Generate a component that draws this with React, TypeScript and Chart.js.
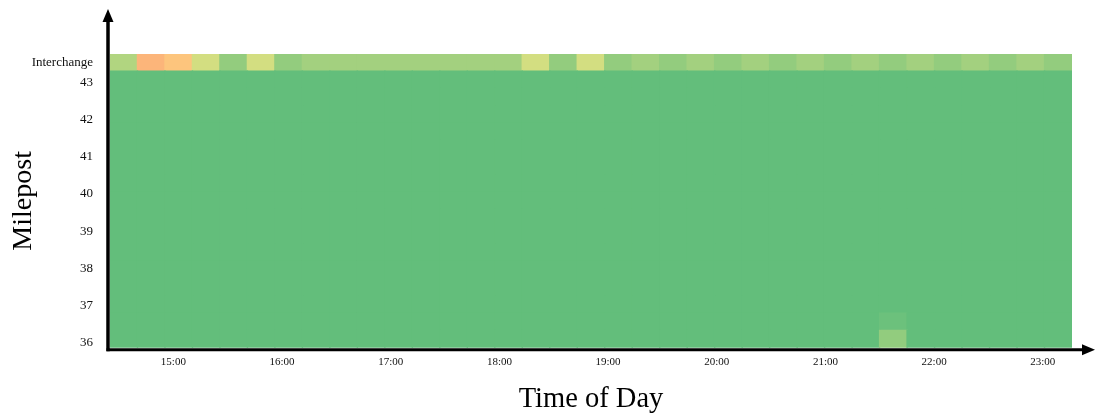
import { useEffect, useRef } from "react";
import { Chart, registerables } from "chart.js";

Chart.register(...registerables);

// ---- Axis ticks ----
const HOUR_TICKS = [15, 16, 17, 18, 19, 20, 21, 22, 23];
const HOUR_LABELS = ["15:00", "16:00", "17:00", "18:00", "19:00", "20:00", "21:00", "22:00", "23:00"];
const MILEPOST_TICKS = [36, 37, 38, 39, 40, 41, 42, 43];
const INTERCHANGE_LABEL = "Interchange";

// ---- Bins (time in hours, location in mileposts) ----
const FIRST_BIN_START = 14.417;
const BIN_WIDTH = 0.2529;
const BIN_COUNT = 35;
const FIRST_ROW_START = 35.866;
const ROW_HEIGHT = 0.4648;

// ---- Values (congestion index, 0 = green, 50 = yellow, 100 = red) ----
const INTERCHANGE_VALUES = [
  25, 70.7, 64.5, 36, 15.5, 36, 15.5,
  20.5, 20.5, 20.5, 20.5, 20.5, 20.5, 20.5, 20.5,
  36, 15.5, 36, 15.5,
  20.5, 15.5, 20.5, 15.5, 20.5, 15.5, 20.5, 15.5,
  20.5, 15.5, 20.5, 15.5, 20.5, 15.5, 20.5, 15.5,
];

// milepost rows, bottom (≈36) to top (≈43)
const MILEPOST_ROWS = [
  [0,0,0,0,0,0,0,0,0,0,0,0,0,0,0,0,0,0,0,0,0,0,0,0,0,0,0,0,15,0,0,0,0,0,0],
  [0,0,0,0,0,0,0,0,0,0,0,0,0,0,0,0,0,0,0,0,0,0,0,0,0,0,0,0,3,0,0,0,0,0,0],
  [0,0,0,0,0,0,0,0,0,0,0,0,0,0,0,0,0,0,0,0,0,0,0,0,0,0,0,0,0,0,0,0,0,0,0],
  [0,0,0,0,0,0,0,0,0,0,0,0,0,0,0,0,0,0,0,0,0,0,0,0,0,0,0,0,0,0,0,0,0,0,0],
  [0,0,0,0,0,0,0,0,0,0,0,0,0,0,0,0,0,0,0,0,0,0,0,0,0,0,0,0,0,0,0,0,0,0,0],
  [0,0,0,0,0,0,0,0,0,0,0,0,0,0,0,0,0,0,0,0,0,0,0,0,0,0,0,0,0,0,0,0,0,0,0],
  [0,0,0,0,0,0,0,0,0,0,0,0,0,0,0,0,0,0,0,0,0,0,0,0,0,0,0,0,0,0,0,0,0,0,0],
  [0,0,0,0,0,0,0,0,0,0,0,0,0,0,0,0,0,0,0,0,0,0,0,0,0,0,0,0,0,0,0,0,0,0,0],
  [0,0,0,0,0,0,0,0,0,0,0,0,0,0,0,0,0,0,0,0,0,0,0,0,0,0,0,0,0,0,0,0,0,0,0],
  [0,0,0,0,0,0,0,0,0,0,0,0,0,0,0,0,0,0,0,0,0,0,0,0,0,0,0,0,0,0,0,0,0,0,0],
  [0,0,0,0,0,0,0,0,0,0,0,0,0,0,0,0,0,0,0,0,0,0,0,0,0,0,0,0,0,0,0,0,0,0,0],
  [0,0,0,0,0,0,0,0,0,0,0,0,0,0,0,0,0,0,0,0,0,0,0,0,0,0,0,0,0,0,0,0,0,0,0],
  [0,0,0,0,0,0,0,0,0,0,0,0,0,0,0,0,0,0,0,0,0,0,0,0,0,0,0,0,0,0,0,0,0,0,0],
  [0,0,0,0,0,0,0,0,0,0,0,0,0,0,0,0,0,0,0,0,0,0,0,0,0,0,0,0,0,0,0,0,0,0,0],
  [0,0,0,0,0,0,0,0,0,0,0,0,0,0,0,0,0,0,0,0,0,0,0,0,0,0,0,0,0,0,0,0,0,0,0],
  [0,0,0,0,0,0,0,0,0,0,0,0,0,0,0,0,0,0,0,0,0,0,0,0,0,0,0,0,0,0,0,0,0,0,0],
];

// ---- Colour scale (green - yellow - red) ----
const SCALE_LOW = [99, 190, 123];
const SCALE_MID = [255, 235, 132];
const SCALE_HIGH = [248, 105, 107];
const SCALE_MIN = 0;
const SCALE_MIDPOINT = 50;
const SCALE_MAX = 100;

function colorFor(v: number): string {
  let a: number[], b: number[], t: number;
  if (v <= SCALE_MIDPOINT) {
    a = SCALE_LOW; b = SCALE_MID;
    t = (v - SCALE_MIN) / (SCALE_MIDPOINT - SCALE_MIN);
  } else {
    a = SCALE_MID; b = SCALE_HIGH;
    t = (v - SCALE_MIDPOINT) / (SCALE_MAX - SCALE_MIDPOINT);
  }
  t = Math.max(0, Math.min(1, t));
  const c = a.map((x, i) => Math.round(x + (b[i] - x) * t));
  return `rgb(${c[0]},${c[1]},${c[2]})`;
}

const binStart = (i: number) => FIRST_BIN_START + i * BIN_WIDTH;
const rowCenter = (r: number) => FIRST_ROW_START + (r + 0.5) * ROW_HEIGHT;

const FONT = "'Liberation Serif', 'Times New Roman', serif";

const axisArrows = {
  id: "axisArrows",
  afterDraw(chart: any) {
    const { ctx, chartArea: ca } = chart;
    ctx.save();
    ctx.strokeStyle = "#000";
    ctx.fillStyle = "#000";
    ctx.lineWidth = 3.5;
    const ax = ca.left - 2;
    const ay = ca.bottom + 2;
    // y axis
    ctx.beginPath();
    ctx.moveTo(ax, ay + 1.5);
    ctx.lineTo(ax, ca.top - 33);
    ctx.stroke();
    ctx.beginPath();
    ctx.moveTo(ax, ca.top - 45);
    ctx.lineTo(ax - 5.5, ca.top - 32);
    ctx.lineTo(ax + 5.5, ca.top - 32);
    ctx.closePath();
    ctx.fill();
    // x axis
    ctx.lineWidth = 3;
    ctx.beginPath();
    ctx.moveTo(ax - 1.5, ay);
    ctx.lineTo(chart.width - 12, ay);
    ctx.stroke();
    ctx.beginPath();
    ctx.moveTo(chart.width, ay);
    ctx.lineTo(chart.width - 13, ay - 5.5);
    ctx.lineTo(chart.width - 13, ay + 5.5);
    ctx.closePath();
    ctx.fill();
    ctx.restore();
  },
};

export default function App() {
  const ref = useRef<HTMLCanvasElement | null>(null);

  useEffect(() => {
    if (!ref.current) return;
    const allRows = [...MILEPOST_ROWS, INTERCHANGE_VALUES];
    const datasets = allRows.map((row, r) => ({
      label: r === allRows.length - 1 ? INTERCHANGE_LABEL : `row ${r}`,
      data: row.map((_, i) => ({ x: [binStart(i), binStart(i + 1)], y: rowCenter(r) })),
      backgroundColor: row.map(colorFor),
      borderWidth: 0,
      inflateAmount: 0.7,
      grouped: false,
      barPercentage: 1,
      categoryPercentage: 1,
    }));

    const chart = new Chart(ref.current, {
      type: "bar",
      data: { datasets: datasets as any },
      plugins: [axisArrows],
      options: {
        indexAxis: "y",
        animation: false,
        responsive: false,
        layout: { padding: { left: 0, right: 23, top: 54, bottom: 0 } },
        plugins: { legend: { display: false }, tooltip: { enabled: false } },
        scales: {
          x: {
            type: "linear",
            position: "bottom",
            min: FIRST_BIN_START,
            max: FIRST_BIN_START + BIN_COUNT * BIN_WIDTH,
            bounds: "data",
            beginAtZero: false,
            offset: false,
            grid: { display: false, drawTicks: false },
            border: { display: false },
            afterBuildTicks: (s: any) => {
              s.ticks = HOUR_TICKS.map((v) => ({ value: v }));
            },
            afterFit: (s: any) => {
              s.height = 71.3;
            },
            ticks: {
              autoSkip: false,
              maxRotation: 0,
              padding: 8,
              color: "#111",
              font: { family: FONT, size: 11 },
              callback: (_v: any, i: number) => HOUR_LABELS[i],
            },
            title: {
              display: true,
              text: "Time of Day",
              color: "#000",
              font: { family: FONT, size: 28.5 },
              padding: { top: 0, bottom: 2.5 },
            },
          },
          y: {
            type: "linear",
            position: "left",
            min: FIRST_ROW_START,
            max: FIRST_ROW_START + (MILEPOST_ROWS.length + 1) * ROW_HEIGHT,
            bounds: "data",
            beginAtZero: false,
            offset: false,
            grid: { display: false, drawTicks: false },
            border: { display: false },
            afterBuildTicks: (s: any) => {
              s.ticks = [
                ...MILEPOST_TICKS.map((v) => ({ value: v })),
                { value: rowCenter(MILEPOST_ROWS.length) },
              ];
            },
            afterFit: (s: any) => {
              s.width = 110;
            },
            ticks: {
              autoSkip: false,
              padding: 17,
              color: "#111",
              font: { family: FONT, size: 13 },
              callback: (v: any, i: number) =>
                i < MILEPOST_TICKS.length ? String(MILEPOST_TICKS[i]) : INTERCHANGE_LABEL,
            },
            title: {
              display: true,
              text: "Milepost",
              color: "#000",
              font: { family: FONT, size: 28 },
              padding: { top: 7, bottom: 0 },
            },
          },
        },
      } as any,
    });
    return () => chart.destroy();
  }, []);

  return (
    <div style={{ position: "absolute", left: 0, top: 0, width: 1095, height: 419, background: "#fff" }}>
      <canvas ref={ref} width={1095} height={419} style={{ display: "block" }} />
    </div>
  );
}
